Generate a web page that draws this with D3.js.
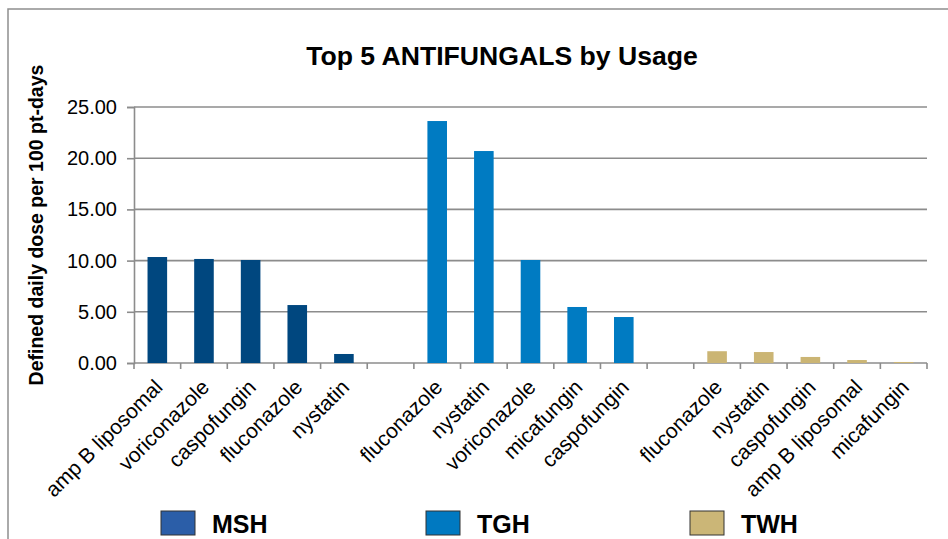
<!DOCTYPE html>
<html>
<head>
<meta charset="utf-8">
<script src="https://cdn.jsdelivr.net/npm/d3@7"></script>
<style>
  body { margin: 0; background: #fff; }
  svg { display: block; font-family: "Liberation Sans", Arial, sans-serif; }
</style>
</head>
<body>
<svg id="chart" width="948" height="539"></svg>
<script>
// hospitals and their top 5 drugs, in plot order
var hospitals = ["MSH", "TGH", "TWH"];
var mshDrugs = ["amp B liposomal", "voriconazole", "caspofungin", "fluconazole", "nystatin"];
var mshValues = [10.35, 10.16, 10.06, 5.66, 0.88];
var tghDrugs = ["fluconazole", "nystatin", "voriconazole", "micafungin", "caspofungin"];
var tghValues = [23.63, 20.70, 10.06, 5.47, 4.49];
var twhDrugs = ["fluconazole", "nystatin", "caspofungin", "amp B liposomal", "micafungin"];
var twhValues = [1.15, 1.07, 0.59, 0.29, 0.10];
var yTicks = [0, 5, 10, 15, 20, 25];

var barColors = ["#00477f", "#007bc2", "#cbb574"];
var legendColors = ["#2b5ea8", "#0079c1", "#cbb677"];

var width = 948, height = 539;
var margin = {top: 107, right: 21, bottom: 176, left: 134};

var svg = d3.select("#chart");

//build the slot list, one empty slot between hospitals
var rows = [];
var slots = [];
[mshDrugs, tghDrugs, twhDrugs].forEach(function(drugs, h) {
    var vals = [mshValues, tghValues, twhValues][h];
    if (h > 0) slots.push("gap" + h);
    drugs.forEach(function(d, i) {
        var key = hospitals[h] + "|" + d;
        slots.push(key);
        rows.push({key: key, drug: d, value: vals[i], hospital: h});
    });
});

var x = d3.scaleBand()
    .domain(slots)
    .range([margin.left, width - margin.right])
    .padding(0);

var y = d3.scaleLinear()
    .domain([0, 25])
    .range([height - margin.bottom, margin.top]);

//outer frame of the chart area
svg.append("rect")
    .attr("x", 8).attr("y", 9)
    .attr("width", 1000).attr("height", 700)
    .attr("fill", "none")
    .attr("stroke", "#8e8e8e")
    .attr("stroke-width", 1.5);

//title
svg.append("text")
    .attr("x", 502).attr("y", 65)
    .attr("text-anchor", "middle")
    .attr("font-size", 26.6)
    .attr("font-weight", "bold")
    .text("Top 5 ANTIFUNGALS by Usage");

//gridlines
svg.append("g")
    .selectAll("line")
    .data(yTicks)
    .enter().append("line")
    .attr("x1", margin.left)
    .attr("x2", width - margin.right)
    .attr("y1", function(d) { return y(d); })
    .attr("y2", function(d) { return y(d); })
    .attr("stroke", "#8c8c8c")
    .attr("stroke-width", 1.6);

//y axis
var yAxis = svg.append("g")
    .attr("transform", "translate(" + margin.left + ",0)")
    .call(d3.axisLeft(y).tickValues(yTicks).tickSize(7).tickPadding(10)
        .tickFormat(d3.format(".2f")));
yAxis.select(".domain").attr("stroke", "#8c8c8c").attr("stroke-width", 1.6);
yAxis.selectAll(".tick line").attr("stroke", "#8c8c8c").attr("stroke-width", 1.6);
yAxis.selectAll("text")
    .attr("font-size", 20)
    .attr("fill", "#000")
    .attr("font-family", "Liberation Sans, Arial, sans-serif");

svg.append("text")
    .attr("transform", "translate(43,225) rotate(-90)")
    .attr("text-anchor", "middle")
    .attr("font-size", 19.5)
    .attr("font-weight", "bold")
    .text("Defined daily dose per 100 pt-days");

//x axis ticks at the slot edges
var edges = slots.map(function(s) { return x(s); }).concat([width - margin.right]);
svg.append("g")
    .selectAll("line")
    .data(edges)
    .enter().append("line")
    .attr("x1", function(d) { return d; })
    .attr("x2", function(d) { return d; })
    .attr("y1", y(0))
    .attr("y2", y(0) + 6)
    .attr("stroke", "#8c8c8c")
    .attr("stroke-width", 1.6);

//bars
var barW = x.bandwidth() * 0.42;
svg.append("g")
    .selectAll("rect")
    .data(rows)
    .enter().append("rect")
    .attr("x", function(d) { return x(d.key) + (x.bandwidth() - barW) / 2; })
    .attr("y", function(d) { return y(d.value); })
    .attr("width", barW)
    .attr("height", function(d) { return y(0) - y(d.value); })
    .attr("fill", function(d) { return barColors[d.hospital]; });

//category labels, rotated
svg.append("g")
    .selectAll("text")
    .data(rows)
    .enter().append("text")
    .attr("transform", function(d) {
        return "translate(" + (x(d.key) + x.bandwidth() / 2 - 4) + "," + (y(0) + 15) + ") rotate(-45)";
    })
    .attr("text-anchor", "end")
    .attr("dy", "0.71em")
    .attr("font-size", 21)
    .text(function(d) { return d.drug; });

//legend
var legendX = [161, 426, 690];
var legend = svg.append("g")
    .selectAll("g")
    .data(hospitals)
    .enter().append("g")
    .attr("transform", function(d, i) { return "translate(" + legendX[i] + ",511)"; });

legend.append("rect")
    .attr("width", 34).attr("height", 24)
    .attr("fill", function(d, i) { return legendColors[i]; })
    .attr("stroke", "#333")
    .attr("stroke-width", 1);

legend.append("text")
    .attr("x", 51).attr("y", 22)
    .attr("font-size", 25)
    .attr("font-weight", "bold")
    .text(function(d) { return d; });
</script>
</body>
</html>
